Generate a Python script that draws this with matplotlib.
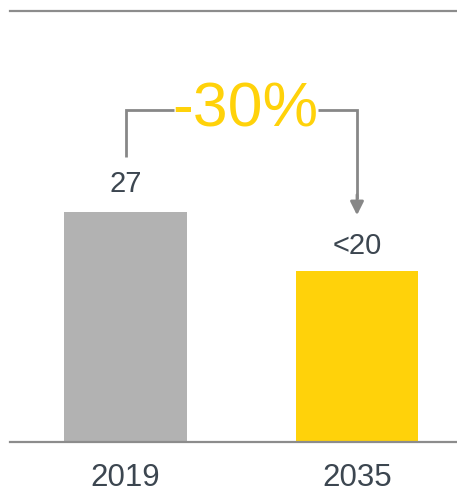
import matplotlib.pyplot as plt

plt.rcParams['font.family'] = ['Liberation Sans', 'DejaVu Sans']

years = ['2019', '2035']
values = [27, 20]
value_labels = ['27', '<20']
bar_colors = ['#B2B2B2', '#FFD20A']
change_label = '-30%'

text_color = '#3C4650'
line_color = '#878787'

fig = plt.figure(figsize=(4.57, 4.93), dpi=100)
ax = fig.add_axes([10 / 457, 51 / 493, 447 / 457, 431.5 / 493])

x = list(range(len(years)))
ax.bar(x, values, width=0.531, color=bar_colors, zorder=2)

ax.set_xlim(-0.499, 1.432)
ax.set_ylim(0, 50.6)

# value labels above bars (baseline positions)
offsets = [2.34, 2.07]
for xi, v, lab, off in zip(x, values, value_labels, offsets):
    ax.text(xi, v + off, lab, ha='center', va='baseline', fontsize=21, color=text_color)

# year labels below the baseline
for xi, yr in zip(x, years):
    ax.text(xi, -5.15, yr, ha='center', va='baseline', fontsize=22.5,
            color=text_color, clip_on=False)

# bracket with arrow
y_bracket = 38.97
ax.plot([0, 0, 0.21], [33.45, y_bracket, y_bracket], color=line_color, lw=2,
        solid_capstyle='butt', solid_joinstyle='miter')
ax.plot([0.83, 1, 1], [y_bracket, y_bracket, 28.5], color=line_color, lw=2,
        solid_capstyle='butt', solid_joinstyle='miter')
ax.annotate('', xy=(1, 26.6), xytext=(1, 29.0),
            arrowprops=dict(arrowstyle='-|>', color=line_color, lw=2,
                            mutation_scale=20, shrinkA=0, shrinkB=0))
ax.text(0.516, 36.97, change_label, ha='center', va='baseline', fontsize=45,
        color='#FFD20A')

for side in ['left', 'right']:
    ax.spines[side].set_visible(False)
for side in ['top', 'bottom']:
    ax.spines[side].set_color('#8C8C8C')
    ax.spines[side].set_linewidth(1.6)
ax.set_xticks([])
ax.set_yticks([])

plt.savefig('out.png', dpi=100)
